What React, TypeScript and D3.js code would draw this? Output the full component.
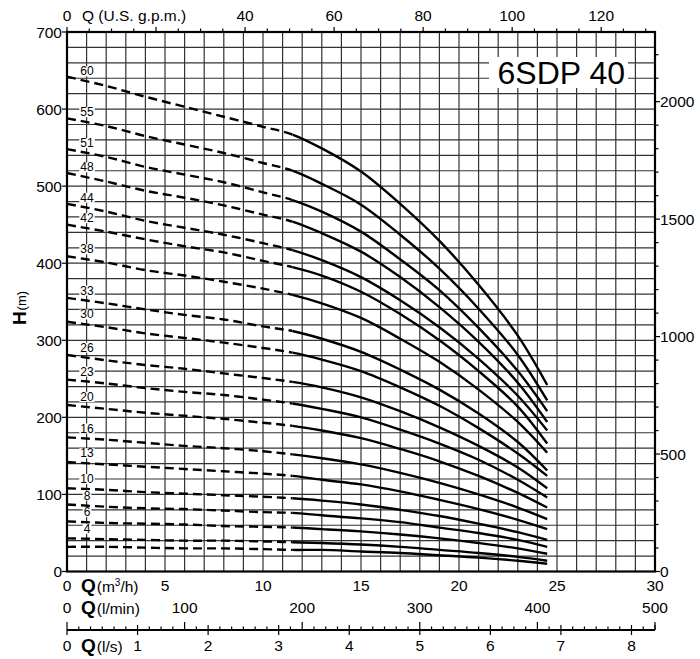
import React from 'react';
import * as d3 from 'd3';

// ---- data ----
const flowM3h = [0, 2, 4, 6, 8, 10, 11.5, 13, 15, 17, 19, 21, 23, 24.5];
const stageCounts = [60, 55, 51, 48, 44, 42, 38, 33, 30, 26, 23, 20, 16, 13, 10, 8, 6, 4, 3];
const head60 = [642, 630, 616, 603, 590, 577, 567, 549, 519, 477, 429, 372, 306, 242];
const head55 = [588, 578, 565, 554, 543, 530, 520, 503, 476, 437, 393, 341, 281, 222];
const head51 = [548, 538, 525, 515, 505, 492, 482, 467, 441, 405, 365, 316, 260, 208];
const head48 = [517, 506, 494, 485, 475, 463, 454, 439, 415, 382, 343, 298, 245, 194];
const head44 = [477, 467, 455, 446, 437, 426, 417, 404, 382, 352, 317, 276, 228, 183];
const head42 = [450, 441, 431, 422, 414, 403, 395, 384, 363, 334, 300, 260, 214, 166];
const head38 = [409, 401, 391, 384, 376, 367, 359, 348, 329, 302, 272, 236, 194, 154];
const head33 = [355, 348, 340, 333, 327, 318, 312, 302, 285, 262, 236, 205, 168, 131];
const head30 = [324, 317, 309, 303, 297, 290, 284, 275, 260, 239, 215, 186, 153, 124];
const head26 = [281, 274, 268, 263, 257, 251, 246, 239, 226, 208, 187, 163, 135, 108];
const head23 = [249, 244, 238, 233, 229, 223, 218, 211, 200, 184, 166, 145, 119, 96];
const head20 = [216, 211, 206, 202, 198, 193, 189, 183, 173, 159, 143, 124, 102, 83];
const head16 = [174, 171, 167, 163, 160, 156, 152, 147, 139, 128, 115, 100, 83, 68];
const head13 = [142, 139, 136, 133, 130, 127, 124, 119, 113, 104, 93, 81, 67, 55];
const head10 = [108, 106, 103, 101, 99, 97, 95, 92, 87, 80, 72, 62, 51, 41];
const head8 = [87, 84, 82, 81, 79, 77, 76, 73, 69, 64, 57, 50, 41, 32];
const head6 = [65, 63, 62, 61, 59, 58, 57, 55, 52, 48, 43, 37, 30, 23];
const head4 = [43, 42, 41, 40, 40, 39, 38, 37, 35, 32, 28, 24, 19, 14];
const head3 = [32, 32, 31, 30, 30, 29, 28, 28, 26, 24, 21, 18, 14, 10];
const headCurves = [head60, head55, head51, head48, head44, head42, head38, head33, head30, head26,
  head23, head20, head16, head13, head10, head8, head6, head4, head3];
const labelledStages = [60, 55, 51, 48, 44, 42, 38, 33, 30, 26, 23, 20, 16, 13, 10, 8, 6, 4];
const dashEndQ = 11.5;

const hLabels = [0, 100, 200, 300, 400, 500, 600, 700];
const gpmLabels = [0, 40, 60, 80, 100, 120];
const ftLabels = [0, 500, 1000, 1500, 2000];
const m3hLabels = [5, 10, 15, 20, 25, 30];
const lminLabels = [100, 200, 300, 400, 500];
const lsLabels = [1, 2, 3, 4, 5, 6, 7, 8];
const title = '6SDP 40';

const GPM_TO_M3H = 0.2271247;
const FT_TO_M = 0.3048;
const LMIN_TO_M3H = 0.06;
const LS_TO_M3H = 3.6;

const FONT = '"Liberation Sans", Arial, Helvetica, sans-serif';

export default function App() {
  const x = d3.scaleLinear().domain([0, 30]).range([67, 655]);
  const y = d3.scaleLinear().domain([0, 700]).range([571.5, 32]);
  const line = d3.line<[number, number]>()
    .x(d => x(d[0]))
    .y(d => y(d[1]))
    .curve(d3.curveCatmullRom.alpha(0.5));

  const vGrid = d3.range(1, 30);
  const hGrid = d3.range(20, 700, 20);
  const gpmTicks = d3.range(0, 131, 5);
  const ftTicks = d3.range(0, 2201, 100);
  const lminTicks = d3.range(0, 501, 10);
  const lsY = 630;
  const xDash = x(dashEndQ);

  return (
    <svg width={700} height={659} style={{ position: 'absolute', left: 0, top: 0, background: '#fff' }}
      fontFamily={FONT}>
      <defs>
        <clipPath id="dashClip"><rect x={0} y={0} width={xDash} height={659} /></clipPath>
        <clipPath id="solidClip"><rect x={xDash} y={0} width={700 - xDash} height={659} /></clipPath>
      </defs>
      <rect x={0} y={0} width={700} height={659} fill="#fff" />
      {/* grid */}
      <g stroke="#333" strokeWidth={1.2}>
        {vGrid.map(v => <line key={'v' + v} x1={x(v)} x2={x(v)} y1={y(0)} y2={y(700)} />)}
        {hGrid.map(h => <line key={'h' + h} x1={x(0)} x2={x(30)} y1={y(h)} y2={y(h)} />)}
      </g>
      {/* title box */}
      <rect x={489} y={57} width={139} height={31} fill="#fff" />
      <text x={625} y={84} fontSize={32} textAnchor="end" fill="#000">{title}</text>

      {/* curves */}
      <g fill="none" stroke="#000" strokeWidth={2.4}>
        {headCurves.map((hc, i) => {
          const pts = flowM3h.map((q, j) => [q, hc[j]] as [number, number]);
          const d = line(pts) || '';
          return (
            <g key={'c' + i}>
              <path d={d} clipPath="url(#dashClip)" strokeDasharray="9 5" />
              <path d={d} clipPath="url(#solidClip)" />
            </g>
          );
        })}
      </g>
      {/* stage labels */}
      <g fontSize={12} textAnchor="middle" fill="#000">
        {labelledStages.map(s => {
          const idx = stageCounts.indexOf(s);
          const hc = headCurves[idx];
          const h1 = (hc[0] + hc[1]) / 2;
          const yy = y(h1) - 6;
          const w = String(s).length * 6.7 + 2;
          return (
            <g key={'l' + s}>
              <rect x={87 - w / 2} y={yy - 9} width={w} height={10} fill="#fff" />
              <text x={87} y={yy} fill="#000">{s}</text>
            </g>
          );
        })}
      </g>

      {/* frame */}
      <rect x={x(0)} y={y(700)} width={x(30) - x(0)} height={y(0) - y(700)} fill="none" stroke="#000" strokeWidth={2.2} />

      {/* left axis */}
      <g fontSize={15.5} textAnchor="end" fill="#000">
        {hLabels.map(h => (
          <g key={'hl' + h}>
            <line x1={x(0) - 5} x2={x(0)} y1={y(h)} y2={y(h)} stroke="#000" strokeWidth={1.2} />
            <text x={62} y={y(h) + 5.5}>{h}</text>
          </g>
        ))}
      </g>
      <text transform="translate(26,308) rotate(-90)" textAnchor="middle" fill="#000">
        <tspan fontWeight="bold" fontSize={19}>H</tspan>
        <tspan fontSize={13} dx={1}>(m)</tspan>
      </text>

      {/* top axis gpm */}
      <g stroke="#000" strokeWidth={1.2}>
        {gpmTicks.map(g => (
          <line key={'gt' + g} x1={x(g * GPM_TO_M3H)} x2={x(g * GPM_TO_M3H)} y1={y(700)} y2={y(700) - (g % 20 === 0 ? 5 : 3.5)} />
        ))}
      </g>
      <g fontSize={15.5} textAnchor="middle" fill="#000">
        {gpmLabels.map(g => <text key={'gl' + g} x={x(g * GPM_TO_M3H)} y={21}>{g}</text>)}
      </g>
      <text x={82} y={21} fontSize={15.5} fill="#000">Q (U.S. g.p.m.)</text>

      {/* right axis ft */}
      <g stroke="#000" strokeWidth={1.2}>
        {ftTicks.map(f => (
          <line key={'ft' + f} x1={x(30)} x2={x(30) + (f % 500 === 0 ? 5 : 3.5)} y1={y(f * FT_TO_M)} y2={y(f * FT_TO_M)} />
        ))}
      </g>
      <g fontSize={15.5} fill="#000">
        {ftLabels.map(f => <text key={'fl' + f} x={660} y={y(f * FT_TO_M) + 5.5}>{f}</text>)}
      </g>

      {/* bottom m3/h */}
      <g fontSize={15.5} textAnchor="middle" fill="#000">
        <text x={x(0)} y={591}>0</text>
        {m3hLabels.map(m => <text key={'ml' + m} x={x(m)} y={591}>{m}</text>)}
      </g>
      <text x={81} y={592} fill="#000"><tspan fontWeight="bold" fontSize={19}>Q</tspan><tspan fontSize={15.5} dx={1}>(m</tspan><tspan fontSize={10} dy={-6}>3</tspan><tspan fontSize={15.5} dy={6}>/h)</tspan></text>

      {/* l/min row */}
      <g fontSize={15.5} textAnchor="middle" fill="#000">
        <text x={x(0)} y={613}>0</text>
        {lminLabels.map(m => <text key={'lm' + m} x={x(m * LMIN_TO_M3H)} y={613}>{m}</text>)}
      </g>
      <text x={81} y={614} fill="#000"><tspan fontWeight="bold" fontSize={19}>Q</tspan><tspan fontSize={15.5} dx={1}>(l/min)</tspan></text>

      {/* l/s axis */}
      <g stroke="#000">
        <line x1={x(0)} x2={x(30)} y1={lsY} y2={lsY} strokeWidth={2} />
        {lminTicks.map(m => {
          const xx = x(m * LMIN_TO_M3H);
          const isLs = m % 60 === 0;
          const isHundred = m % 100 === 0;
          const up = isHundred ? 8 : isLs ? 5 : 3.5;
          const down = isLs ? 5 : 0;
          return <line key={'lt' + m} x1={xx} x2={xx} y1={lsY - up} y2={lsY + down} strokeWidth={1.2} />;
        })}
        <line x1={x(30)} x2={x(30)} y1={lsY - 5} y2={lsY} strokeWidth={1.2} />
      </g>
      <g fontSize={15.5} textAnchor="middle" fill="#000">
        <text x={x(0)} y={651}>0</text>
        {lsLabels.map(l => <text key={'ls' + l} x={x(l * LS_TO_M3H)} y={651}>{l}</text>)}
      </g>
      <text x={81} y={652} fill="#000"><tspan fontWeight="bold" fontSize={19}>Q</tspan><tspan fontSize={15.5} dx={1}>(l/s)</tspan></text>
    </svg>
  );
}
